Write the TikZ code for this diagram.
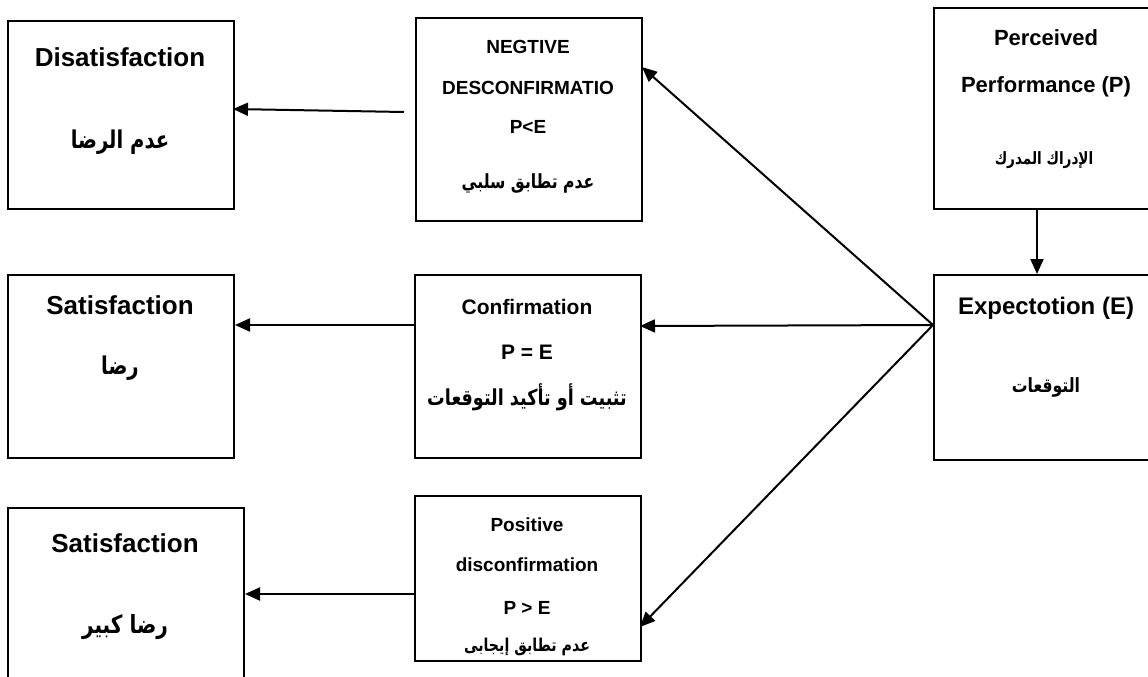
\documentclass[tikz,border=0pt]{standalone}
\usepackage{fontspec}
\setmainfont{Liberation Sans}
\newfontfamily\arabicfont[Script=Arabic]{DejaVu Sans}
\TeXXeTstate=1
\usetikzlibrary{arrows.meta}
\newcommand{\arabtext}[1]{\scalebox{0.8}[1]{\beginR #1\endR}}
\begin{document}
\begin{tikzpicture}[x=1pt,y=-1pt,
  box/.style={draw, line width=2pt, inner sep=0pt, anchor=north west},
  arr/.style={line width=2pt, -{Triangle[length=15pt,width=13pt]}},
  tx/.style={inner sep=0pt, font=\bfseries\fontsize{#1}{#1}\selectfont},
  ar/.style={inner sep=0pt, font=\arabicfont\bfseries\fontsize{#1}{#1}\selectfont}]
\clip (0,0) rectangle (1148,677);
\fill[white] (0,0) rectangle (1148,677);
% boxes
\node[box, minimum width=226pt, minimum height=188pt] (dis) at (7,20) {};
\node[box, minimum width=226pt, minimum height=183pt] (sat) at (7,274) {};
\node[box, minimum width=236pt, minimum height=200pt] (sat2) at (7,507) {};
\node[box, minimum width=226pt, minimum height=203pt] (neg) at (415,17) {};
\node[box, minimum width=226pt, minimum height=183pt] (conf) at (414,274) {};
\node[box, minimum width=226pt, minimum height=165pt] (pos) at (414,495) {};
\node[box, minimum width=230pt, minimum height=201pt] (perc) at (933,7) {};
\node[box, minimum width=230pt, minimum height=185pt] (exp) at (933,274) {};
% texts
\node[tx=26] (dist) at (120,57) {Disatisfaction};
\node[ar=24.5] (disa) at (120,142) {\arabtext{عدم الرضا}};
\node[tx=26] (satt) at (120,305) {Satisfaction};
\node[ar=24.5] (sata) at (120,368) {\arabtext{رضا}};
\node[tx=26] (sat2t) at (125,543) {Satisfaction};
\node[ar=25] (sat2a) at (125,627) {\arabtext{رضا كبير}};
\node[tx=19] (neg1) at (528,47) {NEGTIVE};
\node[tx=19] (neg2) at (528,88) {DESCONFIRMATIO};
\node[tx=19] (neg3) at (528,127) {P<E};
\node[ar=19.5] (nega) at (528,183) {\arabtext{عدم تطابق سلبي}};
\node[tx=21] (conf1) at (527,307) {Confirmation};
\node[tx=21] (conf2) at (527,352) {P = E};
\node[ar=22] (confa) at (527,397) {\arabtext{تثبيت أو تأكيد التوقعات}};
\node[tx=19] (pos1) at (527,525) {Positive};
\node[tx=19] (pos2) at (527,565) {disconfirmation};
\node[tx=19] (pos3) at (527,608) {P > E};
\node[ar=17.7] (posa) at (527,647) {\arabtext{عدم تطابق إيجابى}};
\node[tx=22] (perc1) at (1046,38) {Perceived};
\node[tx=22] (perc2) at (1046,87) {Performance (P)};
\node[ar=17] (perca) at (1044,160) {\arabtext{الإدراك المدرك}};
\node[tx=24] (exp1) at (1046,308) {Expectotion (E)};
\node[ar=19.6] (expa) at (1046,387) {\arabtext{التوقعات}};
% connectors
\coordinate (pa) at (1037,208);
\draw[arr] (pa) -- (pa |- exp.north);
\coordinate (hub) at (933,325);
\coordinate (negtip) at (642,67);
\coordinate (conftip) at (640,326);
\coordinate (postip) at (640,627);
\draw[arr] (hub) -- (negtip);
\draw[arr] (hub) -- (conftip);
\draw[arr] (hub) -- (postip);
\coordinate (negtail) at (404,112);
\coordinate (dtip) at (233,109);
\coordinate (ctail) at (414,325);
\coordinate (ptail) at (414,594);
\draw[arr] (negtail) -- (dtip);
\draw[arr] (ctail) -- (sat.east |- ctail);
\draw[arr] (ptail) -- (sat2.east |- ptail);
\end{tikzpicture}
\end{document}
